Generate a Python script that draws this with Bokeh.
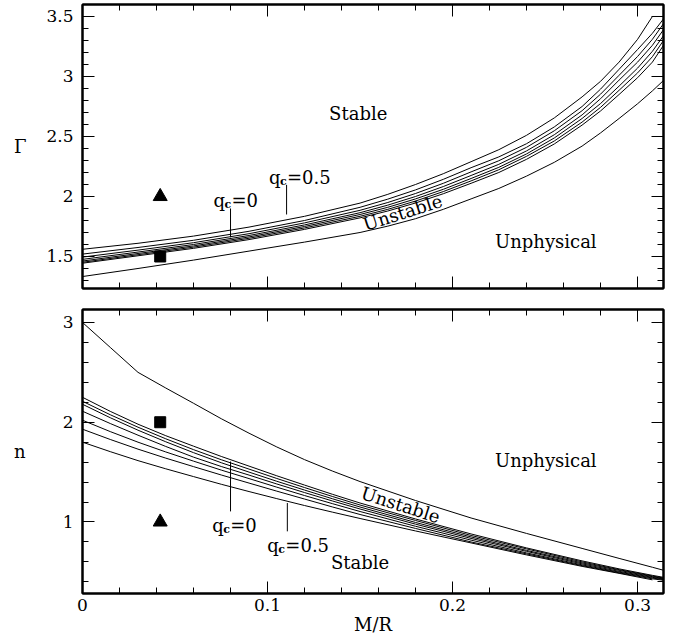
from bokeh.plotting import figure
from bokeh.models import Range1d, LinearAxis, SingleIntervalTicker, CustomJSTickFormatter, Label
from bokeh.layouts import column
from bokeh.embed import file_html
from bokeh.resources import INLINE
from bokeh.core.properties import value

NAN = float("nan")

# ---------------- data ----------------
X_TOP = [0, 0.03, 0.06, 0.09, 0.12, 0.15, 0.165, 0.18, 0.195, 0.21, 0.225, 0.24, 0.255,
         0.27, 0.28, 0.29, 0.30, 0.308, 0.314]
# Gamma curves, top panel (G1: q_c=0.5 ... G7: q_c=0, G8: lower boundary)
G1 = [1.56, 1.61, 1.67, 1.745, 1.835, 1.945, 2.018, 2.10, 2.19, 2.29, 2.39, 2.51, 2.655, 2.83, 2.96, 3.12, 3.31, 3.50, 3.50]
G2 = [1.52, 1.575, 1.635, 1.71, 1.80, 1.91, 1.978, 2.055, 2.143, 2.24, 2.33, 2.44, 2.58, 2.75, 2.895, 3.06, 3.225, 3.36, 3.48]
G3 = [1.495, 1.553, 1.615, 1.69, 1.78, 1.885, 1.95, 2.025, 2.11, 2.205, 2.298, 2.41, 2.548, 2.715, 2.853, 3.01, 3.167, 3.31, 3.44]
G4 = [1.476, 1.537, 1.60, 1.675, 1.763, 1.865, 1.928, 2.00, 2.083, 2.175, 2.268, 2.38, 2.515, 2.68, 2.815, 2.97, 3.12, 3.26, 3.39]
G5 = [1.462, 1.525, 1.588, 1.663, 1.75, 1.85, 1.91, 1.98, 2.06, 2.15, 2.243, 2.355, 2.488, 2.65, 2.775, 2.92, 3.07, 3.21, 3.34]
G6 = [1.452, 1.515, 1.578, 1.652, 1.738, 1.835, 1.893, 1.962, 2.041, 2.13, 2.223, 2.335, 2.463, 2.62, 2.743, 2.885, 3.03, 3.165, 3.30]
G7 = [1.444, 1.506, 1.568, 1.641, 1.726, 1.822, 1.879, 1.946, 2.023, 2.11, 2.20, 2.31, 2.438, 2.595, 2.713, 2.85, 2.99, 3.12, 3.26]
G8 = [1.333, 1.40, 1.47, 1.545, 1.62, 1.70, 1.753, 1.815, 1.893, 1.98, 2.067, 2.17, 2.285, 2.42, 2.53, 2.65, 2.773, 2.88, 2.967]

X_BOT = [0, 0.015, 0.03, 0.045, 0.06, 0.075, 0.09, 0.105, 0.12, 0.135, 0.15, 0.18, 0.21,
         0.24, 0.27, 0.29, 0.308, 0.314]
# n curves, bottom panel (N1: q_c=0 ... N7: q_c=0.5, N8: upper boundary)
N1 = [2.25, 2.109, 1.98, 1.865, 1.76, 1.657, 1.56, 1.463, 1.37, 1.278, 1.19, 1.03, 0.88, 0.74, 0.61, 0.53, 0.465, 0.445]
N2 = [2.21, 2.075, 1.95, 1.834, 1.725, 1.624, 1.53, 1.436, 1.345, 1.256, 1.17, 1.015, 0.865, 0.73, 0.60, 0.522, 0.458, 0.438]
N3 = [2.18, 2.045, 1.92, 1.804, 1.695, 1.594, 1.50, 1.408, 1.32, 1.233, 1.15, 0.995, 0.85, 0.715, 0.59, 0.515, 0.452, 0.433]
N4 = [2.11, 1.987, 1.87, 1.757, 1.65, 1.556, 1.47, 1.381, 1.295, 1.211, 1.13, 0.978, 0.835, 0.705, 0.58, 0.505, 0.445, 0.428]
N5 = [2.02, 1.906, 1.80, 1.702, 1.61, 1.52, 1.435, 1.349, 1.265, 1.184, 1.105, 0.957, 0.818, 0.69, 0.57, 0.497, 0.438, 0.422]
N6 = [1.93, 1.827, 1.73, 1.64, 1.555, 1.471, 1.39, 1.309, 1.23, 1.151, 1.075, 0.935, 0.80, 0.68, 0.562, 0.49, 0.43, 0.416]
N7 = [1.80, 1.705, 1.615, 1.533, 1.455, 1.378, 1.305, 1.234, 1.165, 1.099, 1.035, 0.91, 0.79, 0.67, 0.555, 0.485, 0.42, NAN]
N8 = [3.0, 2.75, 2.50, 2.343, 2.19, 2.035, 1.89, 1.752, 1.625, 1.511, 1.405, 1.215, 1.04, 0.885, 0.735, 0.635, 0.546, 0.516]

# marker points
MX = [0.042]
TOP_TRI = [2.0]
TOP_SQ = [1.5]
BOT_SQ = [2.0]
BOT_TRI = [1.0]

X_RANGE = (0, 0.314)
TOP_RANGE = (1.2333, 3.6)
BOT_RANGE = (0.283, 3.13)

FONT = "DejaVu Serif"

fmt_js = "return tick.toFixed(2).replace(/\\.?0+$/, '');"


def style_axis(ax, ticker, labels, standoff=9):
    ax.ticker = ticker
    ax.major_tick_in = 12
    ax.major_tick_out = 0
    ax.minor_tick_in = 6
    ax.minor_tick_out = 0
    ax.major_tick_line_color = "black"
    ax.minor_tick_line_color = "black"
    ax.major_tick_line_width = 1
    ax.minor_tick_line_width = 1
    ax.axis_line_color = "black"
    ax.axis_line_width = 2
    if labels:
        ax.formatter = CustomJSTickFormatter(code=fmt_js)
        ax.major_label_text_font = FONT
        ax.major_label_text_font_size = "17px"
        ax.major_label_text_color = "black"
        ax.major_label_standoff = standoff
    else:
        ax.formatter = CustomJSTickFormatter(code="return '';")
        ax.major_label_text_font_size = "0px"
        ax.major_label_standoff = 0


def make_fig(h, yr, yint, min_top, min_bottom, xlabels):
    p = figure(width=688, height=h, x_range=Range1d(*X_RANGE), y_range=Range1d(*yr),
               output_backend="svg", toolbar_location=None, tools="",
               min_border_left=82, min_border_right=25,
               min_border_top=min_top, min_border_bottom=min_bottom)
    p.xgrid.visible = False
    p.ygrid.visible = False
    p.outline_line_color = "black"
    p.outline_line_width = 2
    p.background_fill_color = "white"
    p.border_fill_color = "white"
    xt = SingleIntervalTicker(interval=0.1, num_minor_ticks=5)
    yt = SingleIntervalTicker(interval=yint, num_minor_ticks=5)
    ax_below = p.below[0]
    ax_left = p.left[0]
    style_axis(ax_below, xt, xlabels, standoff=5)
    style_axis(ax_left, yt, True, standoff=9)
    ax_top = LinearAxis()
    style_axis(ax_top, xt, False)
    p.add_layout(ax_top, "above")
    ax_right = LinearAxis()
    style_axis(ax_right, yt, False)
    p.add_layout(ax_right, "right")
    return p, ax_below, ax_left


def ylabel(ax, txt, standoff):
    ok = True
    try:
        ax.axis_label_orientation = "horizontal"
    except Exception:
        ok = False
    if ok:
        ax.axis_label = txt
        ax.axis_label_text_font = FONT
        ax.axis_label_text_font_size = "18px"
        ax.axis_label_text_font_style = "normal"
        ax.axis_label_text_color = "black"
        ax.axis_label_standoff = standoff
    return ok


def add_text(p, x, y, t, size="18px", angle=0.0, align="center", baseline="middle",
             style="normal", x_offset=0):
    p.text(x=[x], y=[y], text=[t], angle=angle, text_font=value(FONT),
           text_font_size=value(size), text_align=align, text_baseline=baseline,
           text_color="black", text_font_style=style, x_offset=x_offset)


def qc_label(p, x, y, rest, sub_dy):
    add_text(p, x, y, "q", align="left", baseline="alphabetic")
    add_text(p, x, y - sub_dy, "c", size="11px", align="left", baseline="alphabetic",
             style="bold", x_offset=11)
    add_text(p, x, y, rest, align="left", baseline="alphabetic", x_offset=18)


# ---------------- top panel ----------------
top, top_x, top_y = make_fig(298, TOP_RANGE, 0.5, 4, 10, False)
for g in [G1, G2, G3, G4, G5, G6, G7, G8]:
    top.line(X_TOP, g, line_color="black", line_width=1)
top.scatter(MX, TOP_TRI, marker="triangle", size=14, fill_color="black", line_color="black")
top.scatter(MX, TOP_SQ, marker="square", size=11, fill_color="black", line_color="black")
ok1 = ylabel(top_y, "Γ", 17)
if not ok1:
    top.add_layout(Label(x=-0.029, y=2.42, text="Γ", text_font=FONT, text_font_size="18px",
                         text_align="center", text_baseline="middle"))
add_text(top, 0.149, 2.692, "Stable")
add_text(top, 0.2504, 1.625, "Unphysical")
add_text(top, 0.173, 1.867, "Unstable", angle=0.305)
top.segment(x0=[0.08, 0.1103], y0=[1.90, 2.097], x1=[0.08, 0.1103], y1=[1.66, 1.85],
            line_color="black", line_width=1)
qc_label(top, 0.0708, 1.967, "=0", 0.035)
qc_label(top, 0.1008, 2.156, "=0.5", 0.035)

# ---------------- bottom panel ----------------
bot, bot_x, bot_y = make_fig(339, BOT_RANGE, 1, 11, 43, True)
for n in [N1, N2, N3, N4, N5, N6, N7, N8]:
    bot.line(X_BOT, n, line_color="black", line_width=1)
bot.scatter(MX, BOT_SQ, marker="square", size=11, fill_color="black", line_color="black")
bot.scatter(MX, BOT_TRI, marker="triangle", size=14, fill_color="black", line_color="black")
ok2 = ylabel(bot_y, "n", 34)
if not ok2:
    bot.add_layout(Label(x=-0.029, y=1.7, text="n", text_font=FONT, text_font_size="18px",
                         text_align="center", text_baseline="middle"))
bot_x.axis_label = "M/R"
bot_x.axis_label_text_font = FONT
bot_x.axis_label_text_font_size = "18px"
bot_x.axis_label_text_font_style = "normal"
bot_x.axis_label_text_color = "black"
bot_x.axis_label_standoff = 0
add_text(bot, 0.15, 0.598, "Stable")
add_text(bot, 0.2504, 1.62, "Unphysical")
add_text(bot, 0.172, 1.173, "Unstable", angle=-0.31)
bot.segment(x0=[0.08, 0.1107], y0=[1.606, 1.19], x1=[0.08, 0.1107], y1=[1.106, 0.906],
            line_color="black", line_width=1)
qc_label(bot, 0.0701, 0.966, "=0", 0.04)
qc_label(bot, 0.0999, 0.766, "=0.5", 0.04)

layout = column(top, bot)
open("out.html", "w").write(file_html(layout, INLINE))
